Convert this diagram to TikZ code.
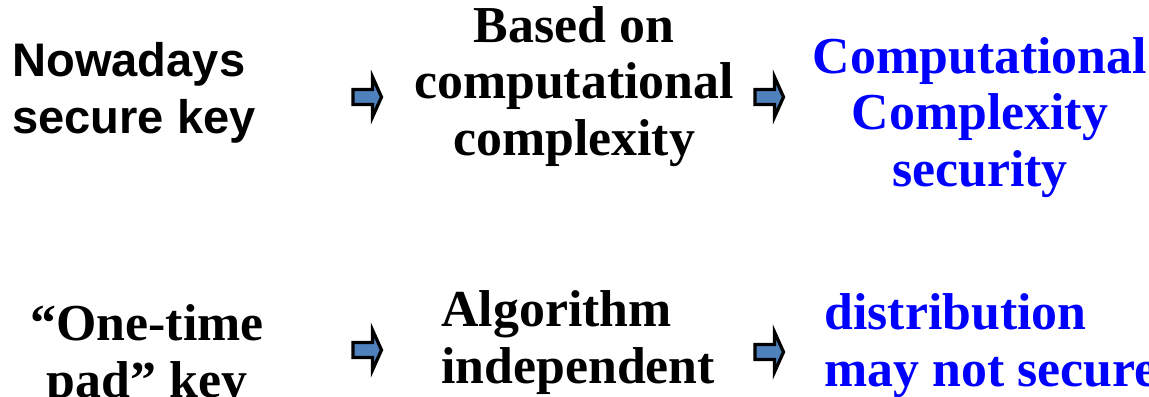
\documentclass[tikz,border=0pt]{standalone}
\usepackage{fontspec}
\setmainfont{Liberation Serif}
\newfontfamily\arialfont{Liberation Sans}
\usepackage{tikz}
\definecolor{pureblue}{RGB}{0,0,255}
\definecolor{arrowblue}{RGB}{79,129,189}
\tikzset{
  % black sans label on the left
  sanslabel/.style={font=\arialfont\bfseries\fontsize{26.8}{32}\selectfont, inner sep=0pt, align=left},
  % bold serif label
  seriflabel/.style={font=\bfseries\fontsize{29.5}{31.9}\selectfont, inner sep=0pt},
  % small block arrow between the labels
  arrowbox/.style={draw=black, fill=arrowblue, line width=0.065cm, line join=miter},
}

\begin{document}
\begin{tikzpicture}[x=0.02cm, y=-0.02cm]

\useasboundingbox (0,0) rectangle (1149,396);

% Labels, first row (placed at the baseline of their last line)
\node[sanslabel, anchor=base west] (nowadays) at (12,133) {Nowadays\\secure key};
\node[seriflabel, align=center, anchor=base] (based) at (574,155) {Based on\\computational\\complexity};
\node[seriflabel, align=center, anchor=base, text=pureblue] (compsec) at (980,186) {Computational\\Complexity\\security};

% Labels, second row
\node[seriflabel, align=center, anchor=base] (onetime) at (147,397) {“One-time\\pad” key};
\node[seriflabel, align=left, anchor=base west] (algo) at (441,383) {Algorithm\\independent};
\node[seriflabel, align=left, anchor=base west, text=pureblue] (distrib) at (824,386) {distribution\\may not secure};

% Block arrows
\foreach \cx/\cy in {367.5/97, 769.5/97, 367.5/350, 769.5/352} {
    \draw[arrowbox, shift={(\cx,\cy)}] (-14.5,-7.5) -- (5,-7.5) -- (5,-20) -- (14,0) -- (5,20) -- (5,7.5) -- (-14.5,7.5) -- cycle;
}

\end{tikzpicture}
\end{document}
